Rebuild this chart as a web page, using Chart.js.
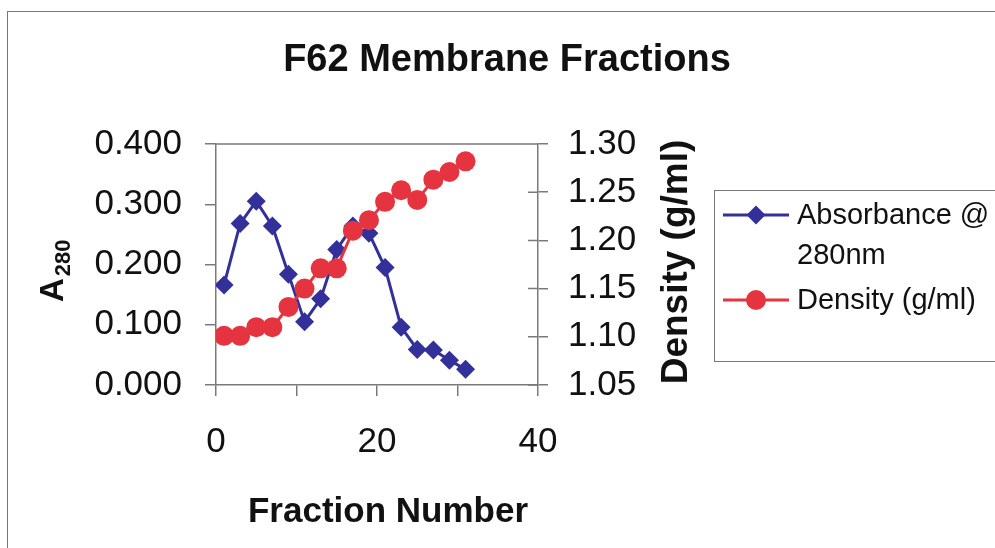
<!DOCTYPE html>
<html>
<head>
<meta charset="UTF-8">
<script src="https://cdn.jsdelivr.net/npm/chart.js@4.4.0/dist/chart.umd.min.js"></script>
<style>
  body { margin: 0; background: #fff; }
  canvas { display: block; }
</style>
</head>
<body>
<canvas id="chart" width="995" height="548"></canvas>
<script>
// values
const fractions  = [1, 3, 5, 7, 9, 11, 13, 15, 17, 19, 21, 23, 25, 27, 29, 31];
const absorbance = [0.166, 0.268, 0.305, 0.264, 0.184, 0.105, 0.143, 0.225,
                    0.264, 0.252, 0.195, 0.096, 0.059, 0.058, 0.041, 0.026];
const density    = [1.101, 1.101, 1.110, 1.110, 1.131, 1.150, 1.171, 1.171,
                    1.210, 1.221, 1.240, 1.252, 1.242, 1.263, 1.271, 1.282];
const xTickLabels = [0, 20, 40];
const legendLines = [['Absorbance @', '280nm'], ['Density (g/ml)']];

const BLUE = '#33309a';
const RED = '#e5343f';
const AXIS = '#7a7a7a';
const FONT = "'Liberation Sans', Arial, sans-serif";

Chart.defaults.font.family = FONT;
Chart.defaults.color = '#111';

// title, axis titles, legend and frame drawn by hand
const decor = {
  id: 'decor',
  beforeDraw(chart) {
    const c = chart.ctx;
    c.save();
    c.fillStyle = '#fff';
    c.fillRect(0, 0, chart.width, chart.height);
    c.strokeStyle = '#777';
    c.lineWidth = 1;
    c.strokeRect(7.5, 11.5, 1000, 600);
    c.restore();
  },
  afterDraw(chart) {
    const c = chart.ctx;
    const a = chart.chartArea;
    c.save();
    // top edge of the plot area
    c.strokeStyle = AXIS;
    c.lineWidth = 1.5;
    c.beginPath();
    c.moveTo(a.left, a.top);
    c.lineTo(a.right, a.top);
    // right axis ticks cross the axis line
    const r = chart.scales.y1;
    r.ticks.forEach(t => {
      const py = r.getPixelForValue(t.value);
      c.moveTo(a.right - 10, py);
      c.lineTo(a.right, py);
    });
    c.stroke();

    c.fillStyle = '#111';
    c.textBaseline = 'alphabetic';

    // chart title
    c.font = 'bold 38px ' + FONT;
    c.textAlign = 'center';
    c.fillText('F62 Membrane Fractions', 507, 71);

    // x axis title
    c.font = 'bold 35px ' + FONT;
    c.fillText('Fraction Number', 388, 522);

    // left axis title A280
    c.save();
    c.translate(63, 302);
    c.rotate(-Math.PI / 2);
    c.textAlign = 'left';
    c.font = 'bold 33px ' + FONT;
    c.fillText('A', 0, 0);
    const wA = c.measureText('A').width;
    c.font = 'bold 22px ' + FONT;
    c.fillText('280', wA + 2, 7);
    c.restore();

    // right axis title
    c.save();
    c.translate(687, 262);
    c.rotate(-Math.PI / 2);
    c.textAlign = 'center';
    c.font = 'bold 37px ' + FONT;
    c.fillText('Density (g/ml)', 0, 0);
    c.restore();

    // legend
    c.strokeStyle = '#777';
    c.lineWidth = 1;
    c.strokeRect(714.5, 190.5, 300, 171);
    c.font = '29px ' + FONT;
    c.textAlign = 'left';
    const rows = [215, 300];
    chart.data.datasets.forEach((ds, i) => {
      const y = rows[i];
      c.strokeStyle = ds.borderColor;
      c.lineWidth = 3;
      c.beginPath();
      c.moveTo(723, y);
      c.lineTo(789, y);
      c.stroke();
      c.fillStyle = ds.backgroundColor;
      c.beginPath();
      if (ds.pointStyle === 'rectRot') {
        c.moveTo(756 - 9.5, y);
        c.lineTo(756, y - 9.5);
        c.lineTo(756 + 9.5, y);
        c.lineTo(756, y + 9.5);
        c.closePath();
      } else {
        c.arc(756, y, 10, 0, Math.PI * 2);
      }
      c.fill();
      c.fillStyle = '#111';
      legendLines[i].forEach((t, k) => c.fillText(t, 797, y + 9 + k * 40));
    });
    c.restore();
  }
};

new Chart(document.getElementById('chart'), {
  type: 'line',
  data: {
    datasets: [
      {
        label: legendLines[0].join(' '),
        data: fractions.map((f, i) => ({ x: f, y: absorbance[i] })),
        yAxisID: 'y',
        borderColor: BLUE,
        backgroundColor: BLUE,
        borderWidth: 3,
        pointStyle: 'rectRot',
        pointRadius: 9.5,
        pointBorderWidth: 0,
        order: 1
      },
      {
        label: legendLines[1].join(' '),
        data: fractions.map((f, i) => ({ x: f, y: density[i] })),
        yAxisID: 'y1',
        borderColor: RED,
        backgroundColor: RED,
        borderWidth: 3,
        pointStyle: 'circle',
        pointRadius: 10,
        pointBorderWidth: 0,
        order: 0
      }
    ]
  },
  options: {
    responsive: false,
    animation: false,
    layout: { padding: { top: 144, left: 0, right: 0, bottom: 0 } },
    plugins: {
      legend: { display: false },
      title: { display: false },
      tooltip: { enabled: false }
    },
    scales: {
      x: {
        type: 'linear',
        min: 0,
        max: 40,
        ticks: {
          stepSize: 10,
          autoSkip: false,
          maxRotation: 0,
          padding: 25,
          font: { size: 35 },
          callback: v => xTickLabels.includes(v) ? String(v) : ''
        },
        grid: { drawOnChartArea: false, tickLength: 11, color: AXIS, lineWidth: 1.5 },
        border: { color: AXIS, width: 1.5 },
        afterFit: s => { s.height = 163; }
      },
      y: {
        position: 'left',
        min: 0,
        max: 0.4,
        ticks: {
          stepSize: 0.1,
          padding: 23,
          font: { size: 35 },
          callback: v => v.toFixed(3)
        },
        grid: { drawOnChartArea: false, tickLength: 11, color: AXIS, lineWidth: 1.5 },
        border: { color: AXIS, width: 1.5 },
        afterFit: s => { s.width = 216; }
      },
      y1: {
        position: 'right',
        min: 1.05,
        max: 1.30,
        ticks: {
          stepSize: 0.05,
          padding: 20,
          font: { size: 35 },
          callback: v => v.toFixed(2)
        },
        grid: { drawOnChartArea: false, tickLength: 10, color: AXIS, lineWidth: 1.5 },
        border: { color: AXIS, width: 1.5 },
        afterFit: s => { s.width = 995 - 538; }
      }
    }
  },
  plugins: [decor]
});
</script>
</body>
</html>
